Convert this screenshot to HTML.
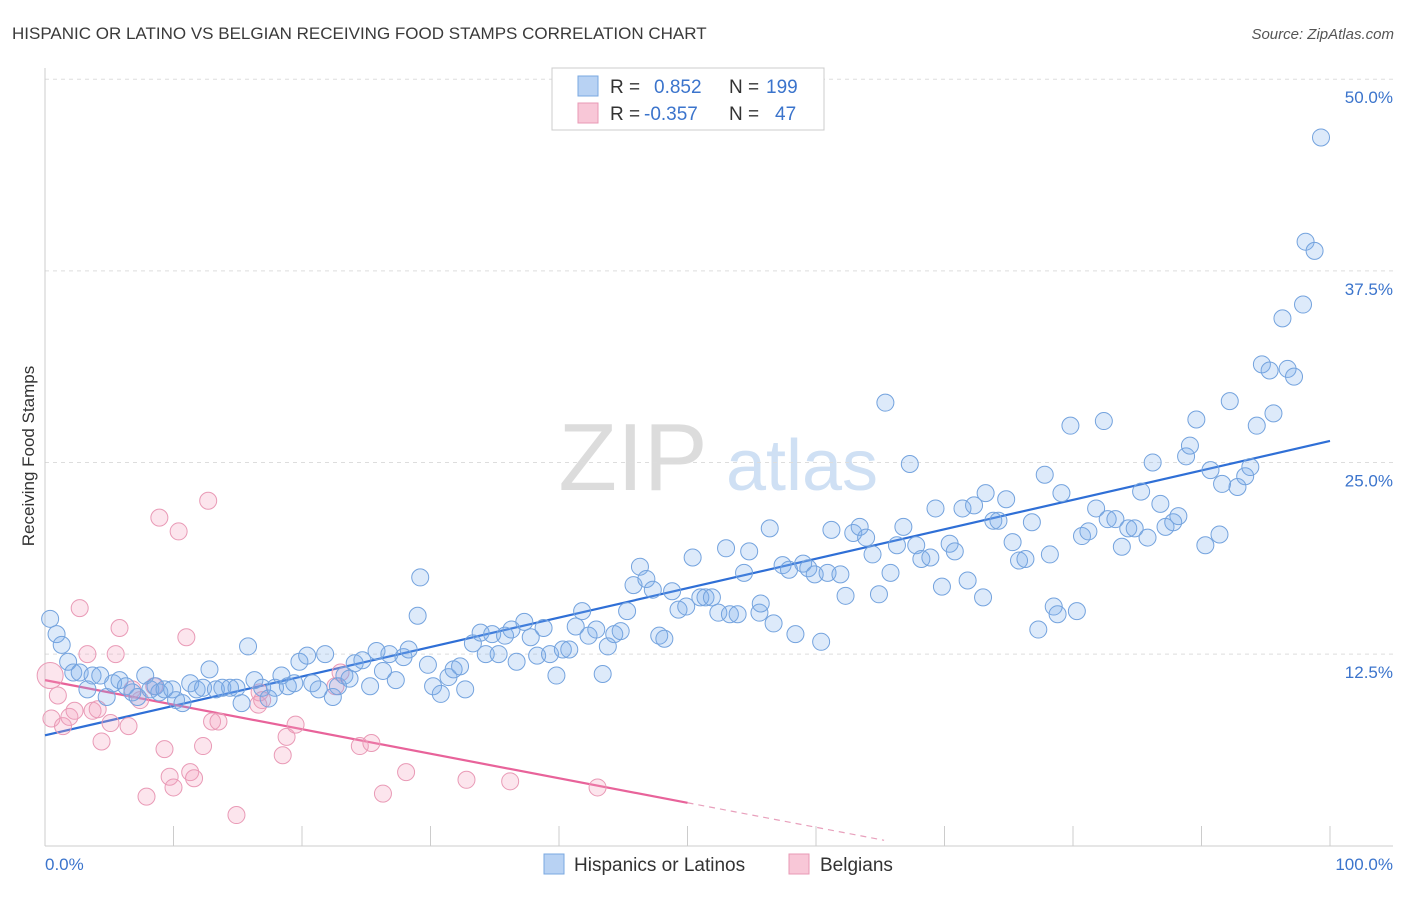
<!DOCTYPE html>
<html><head><meta charset="utf-8">
<style>
body{margin:0;background:#fff;font-family:"Liberation Sans",sans-serif;}
svg text{font-family:"Liberation Sans",sans-serif;}
</style></head>
<body>
<svg id="chart" width="1406" height="892" viewBox="0 0 1406 892">
<text x="12" y="39" font-size="17" fill="#3a3a3a">HISPANIC OR LATINO VS BELGIAN RECEIVING FOOD STAMPS CORRELATION CHART</text>
<text x="1394" y="39" font-size="15" fill="#555" font-style="italic" text-anchor="end">Source: ZipAtlas.com</text>
<text transform="translate(34,456) rotate(-90)" font-size="17" fill="#333" text-anchor="middle">Receiving Food Stamps</text>
<g>
<text x="633" y="490" font-size="96" fill="#dcdcdc" font-family="Liberation Serif,serif" text-anchor="middle">ZIP</text>
<text x="802" y="490" font-size="72" fill="#cfe0f4" text-anchor="middle">atlas</text>
</g>
<g id="grid"></g><g id="axes"></g><g id="trends"></g><g id="pts"></g>
<g>
<rect x="552" y="68" width="272" height="62" fill="#fff" stroke="#ccc"/>
<rect x="578" y="76" width="20" height="20" fill="#b8d2f3" stroke="#7aa8e0"/>
<rect x="578" y="103" width="20" height="20" fill="#f8c7d7" stroke="#e89ab5"/>
<text x="610" y="93" font-size="19" fill="#333">R = <tspan fill="#3b74cc" x="654">0.852</tspan><tspan x="729" fill="#333">N = </tspan><tspan fill="#3b74cc" x="766">199</tspan></text>
<text x="610" y="120" font-size="19" fill="#333">R = <tspan fill="#3b74cc" x="644">-0.357</tspan><tspan x="729" fill="#333">N = </tspan><tspan fill="#3b74cc" x="775">47</tspan></text>
</g>
<g>
<rect x="544" y="854" width="20" height="20" fill="#b8d2f3" stroke="#7aa8e0"/>
<text x="574" y="871" font-size="19" fill="#333">Hispanics or Latinos</text>
<rect x="789" y="854" width="20" height="20" fill="#f8c7d7" stroke="#e89ab5"/>
<text x="820" y="871" font-size="19" fill="#333">Belgians</text>
</g>
</svg>
<script>
const yTicks=[12.5,25,37.5,50];
const yTickLabels=["12.5%","25.0%","37.5%","50.0%"];
const xTicks=[10,20,30,40,50,60,70,80,90,100];
const blueX=[0.4,0.9,1.3,1.8,2.2,2.7,3.3,3.7,4.3,4.8,5.3,5.8,6.3,6.8,7.2,7.8,8.2,8.6,8.9,9.3,9.9,10.2,10.7,11.3,11.8,12.3,12.8,13.3,13.8,14.4,14.9,15.3,15.8,16.3,16.9,17.4,17.9,18.4,18.9,19.4,19.8,20.4,20.8,21.3,21.8,22.4,22.8,23.3,23.7,24.1,24.7,25.3,25.8,26.3,26.8,27.3,27.9,28.3,29.2,29.0,29.8,30.2,30.8,31.4,31.8,32.3,32.7,33.3,33.9,34.3,34.8,35.3,35.8,36.3,36.7,37.3,37.8,38.3,38.8,39.3,39.8,40.3,40.8,41.3,41.8,42.3,42.9,43.4,43.8,44.3,44.8,45.3,45.8,46.3,46.8,47.3,47.8,48.2,48.8,49.3,49.9,50.4,51.0,51.4,51.9,52.4,53.0,53.3,53.9,54.4,54.8,55.6,55.7,56.4,56.7,57.4,57.9,58.4,59.0,59.4,59.9,60.4,60.9,61.2,61.9,62.3,62.9,63.4,63.9,64.4,64.9,65.4,65.8,66.3,66.8,67.3,67.8,68.2,68.9,69.3,69.8,70.4,70.8,71.4,71.8,72.3,73.0,73.2,73.8,74.2,74.8,75.3,75.8,76.3,76.8,77.3,77.8,78.2,78.5,79.1,78.8,79.8,80.3,80.7,81.2,81.8,82.4,82.7,83.3,83.8,84.3,84.8,85.3,85.8,86.2,86.8,87.2,87.8,88.2,88.8,89.1,89.6,90.3,90.7,91.4,91.6,92.2,92.8,93.4,93.8,94.3,94.7,95.3,95.6,96.3,96.7,97.2,97.9,98.1,98.8,99.3];
const blueY=[14.8,13.8,13.1,12.0,11.3,11.3,10.2,11.1,11.1,9.7,10.6,10.8,10.4,10.0,9.7,11.1,10.2,10.4,10.0,10.2,10.2,9.5,9.3,10.6,10.2,10.3,11.5,10.2,10.3,10.3,10.3,9.3,13.0,10.8,10.3,9.6,10.3,11.1,10.4,10.6,12.0,12.4,10.6,10.2,12.5,9.7,10.4,11.1,10.9,11.9,12.1,10.4,12.7,11.4,12.5,10.8,12.3,12.8,17.5,15.0,11.8,10.4,9.9,11.0,11.5,11.7,10.2,13.2,13.9,12.5,13.8,12.5,13.7,14.1,12.0,14.6,13.6,12.4,14.2,12.5,11.1,12.8,12.8,14.3,15.3,13.7,14.1,11.2,13.0,13.8,14.0,15.3,17.0,18.2,17.4,16.7,13.7,13.5,16.6,15.4,15.6,18.8,16.2,16.2,16.2,15.2,19.4,15.1,15.1,17.8,19.2,15.2,15.8,20.7,14.5,18.3,18.0,13.8,18.4,18.1,17.7,13.3,17.8,20.6,17.7,16.3,20.4,20.8,20.1,19.0,16.4,28.9,17.8,19.6,20.8,24.9,19.6,18.7,18.8,22.0,16.9,19.7,19.2,22.0,17.3,22.2,16.2,23.0,21.2,21.2,22.6,19.8,18.6,18.7,21.1,14.1,24.2,19.0,15.6,23.0,15.1,27.4,15.3,20.2,20.5,22.0,27.7,21.3,21.3,19.5,20.7,20.7,23.1,20.1,25.0,22.3,20.8,21.1,21.5,25.4,26.1,27.8,19.6,24.5,20.3,23.6,29.0,23.4,24.1,24.7,27.4,31.4,31.0,28.2,34.4,31.1,30.6,35.3,39.4,38.8,46.2];
const pinkX=[0.4,0.5,1.0,1.4,1.9,2.3,2.7,3.3,3.7,4.1,4.4,5.1,5.5,5.8,6.5,6.8,7.4,7.9,8.5,8.9,9.3,9.7,10.0,10.4,11.0,11.3,11.6,12.3,12.7,13.0,13.5,14.9,16.6,16.7,16.9,18.5,18.8,19.5,22.6,23.0,24.5,25.4,26.3,28.1,32.8,36.2,43.0];
const pinkY=[11.1,8.3,9.8,7.8,8.4,8.8,15.5,12.5,8.8,8.9,6.8,8.0,12.5,14.2,7.8,10.2,9.5,3.2,10.4,21.4,6.3,4.5,3.8,20.5,13.6,4.8,4.4,6.5,22.5,8.1,8.1,2.0,9.2,10.0,9.5,5.9,7.1,7.9,10.4,11.3,6.5,6.7,3.4,4.8,4.3,4.2,3.8];
const blueTrendX=[0,100], blueTrendY=[7.2,26.4];
const pinkTrendX=[0,50], pinkTrendY=[10.8,2.8];
const pinkDashX=[50,65.3];

const X=v=>45+v*12.85, Y=v=>845.7-v*15.33;
const NS="http://www.w3.org/2000/svg";
function mk(tag,attrs,parent){const e=document.createElementNS(NS,tag);for(const k in attrs)e.setAttribute(k,attrs[k]);parent.appendChild(e);return e;}
const grid=document.getElementById('grid'),axes=document.getElementById('axes'),trends=document.getElementById('trends'),pts=document.getElementById('pts');
yTicks.forEach((t,i)=>{
  const l=mk('line',{x1:45,x2:1393,y1:Y(t),y2:Y(t),stroke:'#ddd','stroke-dasharray':'4,4'},grid);
  
  
  const tx=mk('text',{x:1393,y:Y(t)+24,'font-size':17,fill:'#3b74cc','text-anchor':'end'},axes);
  tx.textContent=yTickLabels[i];
  
  
});
const ya=mk('line',{x1:45,x2:45,y1:68,y2:846,stroke:'#ccc'},axes);


const xa=mk('line',{x1:45,x2:1393,y1:846,y2:846,stroke:'#ccc'},axes);


xTicks.forEach(t=>{
  const l=mk('line',{x1:X(t),x2:X(t),y1:826,y2:846,stroke:'#ccc'},axes);
  
  
});
const x0=mk('text',{x:45,y:870,'font-size':17,fill:'#3b74cc'},axes);x0.textContent='0.0%';


const x1=mk('text',{x:1393,y:870,'font-size':17,fill:'#3b74cc','text-anchor':'end'},axes);x1.textContent='100.0%';



pinkX.forEach((v,i)=>{
  const c=mk('circle',{cx:X(v),cy:Y(pinkY[i]),r:i===0?13:8.5,fill:'rgba(244,160,190,0.28)',stroke:'#e99ab6','stroke-width':1},pts);
  
  
});
blueX.forEach((v,i)=>{
  const c=mk('circle',{cx:X(v),cy:Y(blueY[i]),r:8.5,fill:'rgba(120,170,235,0.25)',stroke:'#74a3de','stroke-width':1},pts);
  
  
});
const bt=mk('line',{x1:X(blueTrendX[0]),y1:Y(blueTrendY[0]),x2:X(blueTrendX[1]),y2:Y(blueTrendY[1]),stroke:'#2f6fd6','stroke-width':2.2},trends);


const slope=(pinkTrendY[1]-pinkTrendY[0])/(pinkTrendX[1]-pinkTrendX[0]);
const pt=mk('line',{x1:X(pinkTrendX[0]),y1:Y(pinkTrendY[0]),x2:X(pinkTrendX[1]),y2:Y(pinkTrendY[1]),stroke:'#e8639a','stroke-width':2.2},trends);


const pd=mk('line',{x1:X(pinkDashX[0]),y1:Y(pinkTrendY[0]+slope*pinkDashX[0]),x2:X(pinkDashX[1]),y2:Y(pinkTrendY[0]+slope*pinkDashX[1]),stroke:'#e8a0bc','stroke-width':1.2,'stroke-dasharray':'6,5'},trends);


</script>
</body></html>
